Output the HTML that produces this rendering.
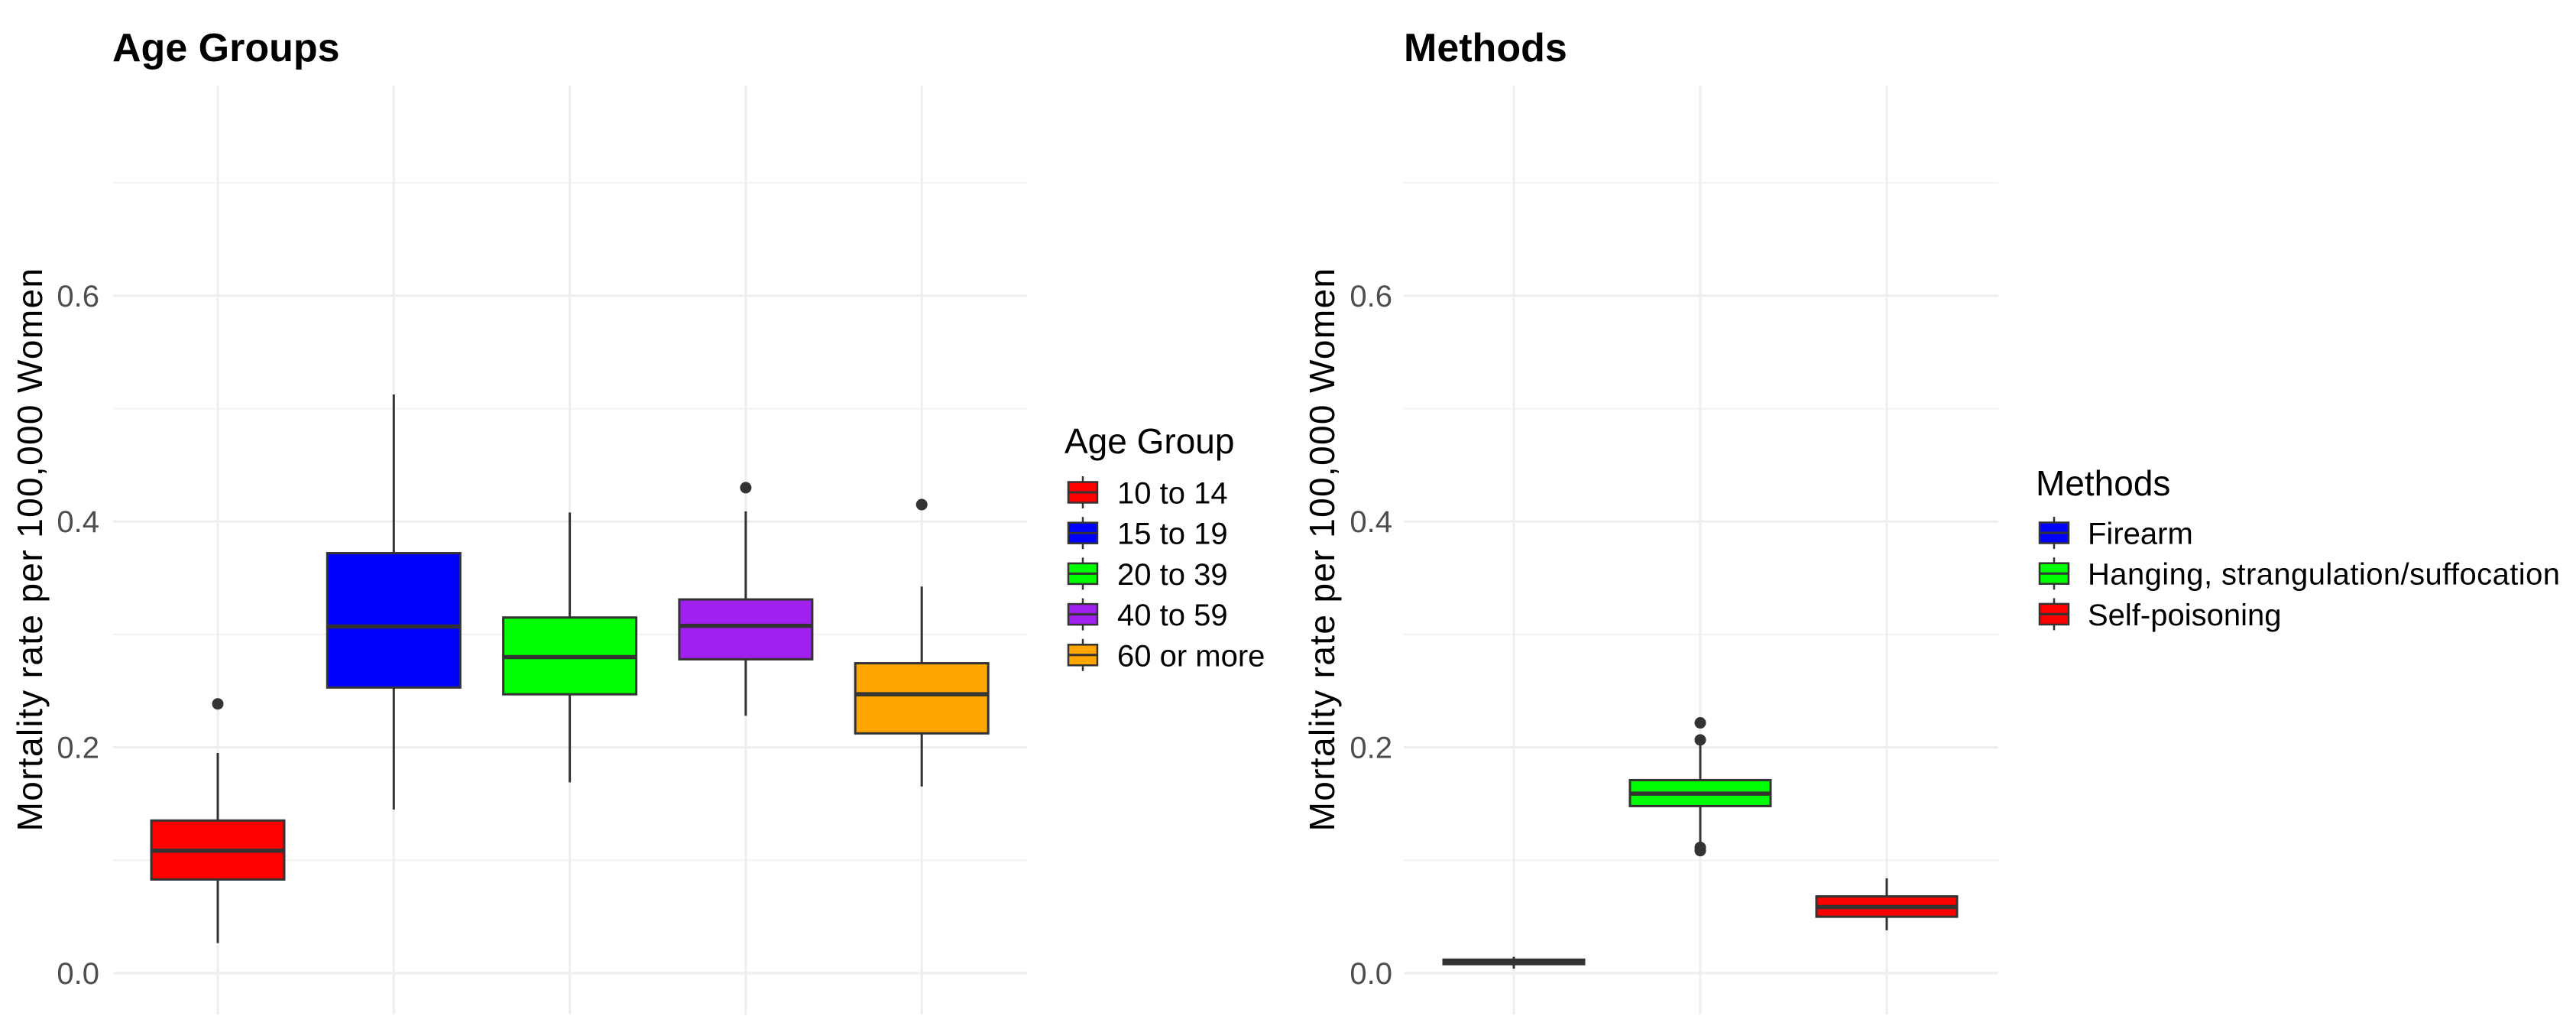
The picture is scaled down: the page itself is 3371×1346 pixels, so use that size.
<!DOCTYPE html>
<html lang="en">
<head>
<meta charset="utf-8">
<title>Mortality rate boxplots</title>
<style>
html,body{margin:0;padding:0;background:#fff;}
svg{display:block;}
text{font-family:"Liberation Sans",Arial,sans-serif;}
.title{font-size:52px;font-weight:bold;fill:#000;}
.ytitle{font-size:46px;letter-spacing:1.35px;fill:#000;text-anchor:middle;}
.tick{font-size:40px;fill:#4d4d4d;text-anchor:end;}
.legtitle{font-size:46px;fill:#000;}
.leglabel{font-size:40px;fill:#000;}
</style>
</head>
<body>
<svg id="chart" xmlns="http://www.w3.org/2000/svg" width="3371" height="1346" viewBox="0 0 3371 1346">
  <rect width="3371" height="1346" fill="#fff"></rect>
  <g id="panelA">
    <text class="title" x="147" y="80">Age Groups</text>
    <text class="ytitle" transform="translate(55,718.5) rotate(-90)">Mortality rate per 100,000 Women</text>
    <text class="legtitle" x="1393" y="593">Age Group</text>
  </g>
  <g id="panelB">
    <text class="title" x="1837" y="80">Methods</text>
    <text class="ytitle" transform="translate(1746,718.5) rotate(-90)">Mortality rate per 100,000 Women</text>
    <text class="legtitle" x="2664" y="648">Methods</text>
  </g>
</svg>
<script>
// Shared y axis
const yMajorTicks = [0, 0.2, 0.4, 0.6];
const yMinorTicks = [0.1, 0.3, 0.5, 0.7];
const yTickLabels = ["0.0", "0.2", "0.4", "0.6"];

// Age groups
const ageCategories = ["10 to 14", "15 to 19", "20 to 39", "40 to 59", "60 or more"];
const ageQ1 = [0.083, 0.253, 0.247, 0.278, 0.2124];
const ageMedian = [0.1085, 0.307, 0.280, 0.3076, 0.247];
const ageQ3 = [0.1352, 0.372, 0.315, 0.331, 0.2745];
const ageWhiskerLow = [0.0267, 0.145, 0.169, 0.228, 0.1654];
const ageWhiskerHigh = [0.195, 0.5125, 0.408, 0.409, 0.3424];
const ageOutliers = [[0.2385], [], [], [0.430], [0.415]];
const ageColors = ["#ff0000", "#0000ff", "#00ff00", "#a020f0", "#ffa500"];

// Methods
const methodCategories = ["Firearm", "Hanging, strangulation/suffocation", "Self-poisoning"];
const methodQ1 = [0.008, 0.148, 0.050];
const methodMedian = [0.0095, 0.159, 0.0586];
const methodQ3 = [0.012, 0.171, 0.068];
const methodWhiskerLow = [0.004, 0.115, 0.038];
const methodWhiskerHigh = [0.0145, 0.202, 0.084];
const methodOutliers = [[], [0.2217, 0.2066, 0.1114, 0.1085], []];
const methodColors = ["#0000ff", "#00ff00", "#ff0000"];

const NS = "http://www.w3.org/2000/svg";
const yScale = v => 1273 - v * 1477;

function mk(parent, tag, attrs) {
  const el = document.createElementNS(NS, tag);
  for (const k in attrs) el.setAttribute(k, attrs[k]);
  parent.appendChild(el);
  return el;
}
function slug(s) {
  return s.toLowerCase().replace(/[^a-z0-9]+/g, "-");
}

function drawPanel(opts) {
  const root = document.getElementById(opts.rootId);
  const xScale = i => opts.x0 + i * opts.step;
  const first = root.firstChild;

  const grid = document.createElementNS(NS, "g");
  
  
  root.insertBefore(grid, first);

  yMinorTicks.forEach(t => {
    const el = mk(grid, "line", {x1: opts.left, x2: opts.right, y1: yScale(t), y2: yScale(t), stroke: "#f2f2f2", "stroke-width": 2});
    
    
  });
  yMajorTicks.forEach((t, i) => {
    const el = mk(grid, "line", {x1: opts.left, x2: opts.right, y1: yScale(t), y2: yScale(t), stroke: "#eeeeee", "stroke-width": 3});
    
    
    const label = mk(root, "text", {class: "tick", x: opts.tickX, y: yScale(t) + 14});
    label.textContent = yTickLabels[i];
    
    
  });
  opts.categories.forEach((c, i) => {
    const el = mk(grid, "line", {x1: xScale(i), x2: xScale(i), y1: 112, y2: 1327, stroke: "#eeeeee", "stroke-width": 3});
    
    
  });

  opts.categories.forEach((c, i) => {
    const cx = xScale(i);
    const g = mk(root, "g", {});
    
    

    const whisker = mk(g, "line", {x1: cx, x2: cx, y1: yScale(opts.whiskerLow[i]), y2: yScale(opts.whiskerHigh[i]), stroke: "#333", "stroke-width": 3});
    
    

    const top = yScale(opts.q3[i]);
    const bottom = yScale(opts.q1[i]);
    const rect = mk(g, "rect", {x: cx - opts.half, y: top, width: opts.half * 2, height: bottom - top, fill: opts.colors[i], stroke: "#333", "stroke-width": 3});
    
    

    const med = mk(g, "line", {x1: cx - opts.half, x2: cx + opts.half, y1: yScale(opts.median[i]), y2: yScale(opts.median[i]), stroke: "#333", "stroke-width": 5.5});
    
    

    opts.outliers[i].forEach(v => {
      const dot = mk(g, "circle", {cx: cx, cy: yScale(v), r: 7.5, fill: "#333"});
      
      
    });
  });

  opts.categories.forEach((c, i) => {
    const cy = opts.legendY + i * 53.2;
    const g = mk(root, "g", {});
    
    

    const w = mk(g, "line", {x1: opts.keyX, x2: opts.keyX, y1: cy - 21, y2: cy + 21, stroke: "#333", "stroke-width": 2.5});
    
    

    const r = mk(g, "rect", {x: opts.keyX - 19, y: cy - 13.5, width: 38, height: 27, fill: opts.colors[i], stroke: "#333", "stroke-width": 2.5});
    
    

    const m = mk(g, "line", {x1: opts.keyX - 19, x2: opts.keyX + 19, y1: cy, y2: cy, stroke: "#333", "stroke-width": 3});
    
    

    const t = mk(g, "text", {class: "leglabel", x: opts.labelX, y: cy + 14.5});
    t.textContent = c;
    if (c.length > 20) t.setAttribute("textLength", 618);
    
    
  });
}

drawPanel({
  rootId: "panelA", prefix: "age", left: 148, right: 1344, x0: 285, step: 230.3, half: 87, tickX: 130,
  categories: ageCategories, q1: ageQ1, median: ageMedian, q3: ageQ3,
  whiskerLow: ageWhiskerLow, whiskerHigh: ageWhiskerHigh, outliers: ageOutliers, colors: ageColors,
  legendY: 644, keyX: 1417, labelX: 1462
});
drawPanel({
  rootId: "panelB", prefix: "methods", left: 1837, right: 2615, x0: 1981, step: 244, half: 92, tickX: 1822,
  categories: methodCategories, q1: methodQ1, median: methodMedian, q3: methodQ3,
  whiskerLow: methodWhiskerLow, whiskerHigh: methodWhiskerHigh, outliers: methodOutliers, colors: methodColors,
  legendY: 697, keyX: 2688, labelX: 2732
});
</script>
</body>
</html>
